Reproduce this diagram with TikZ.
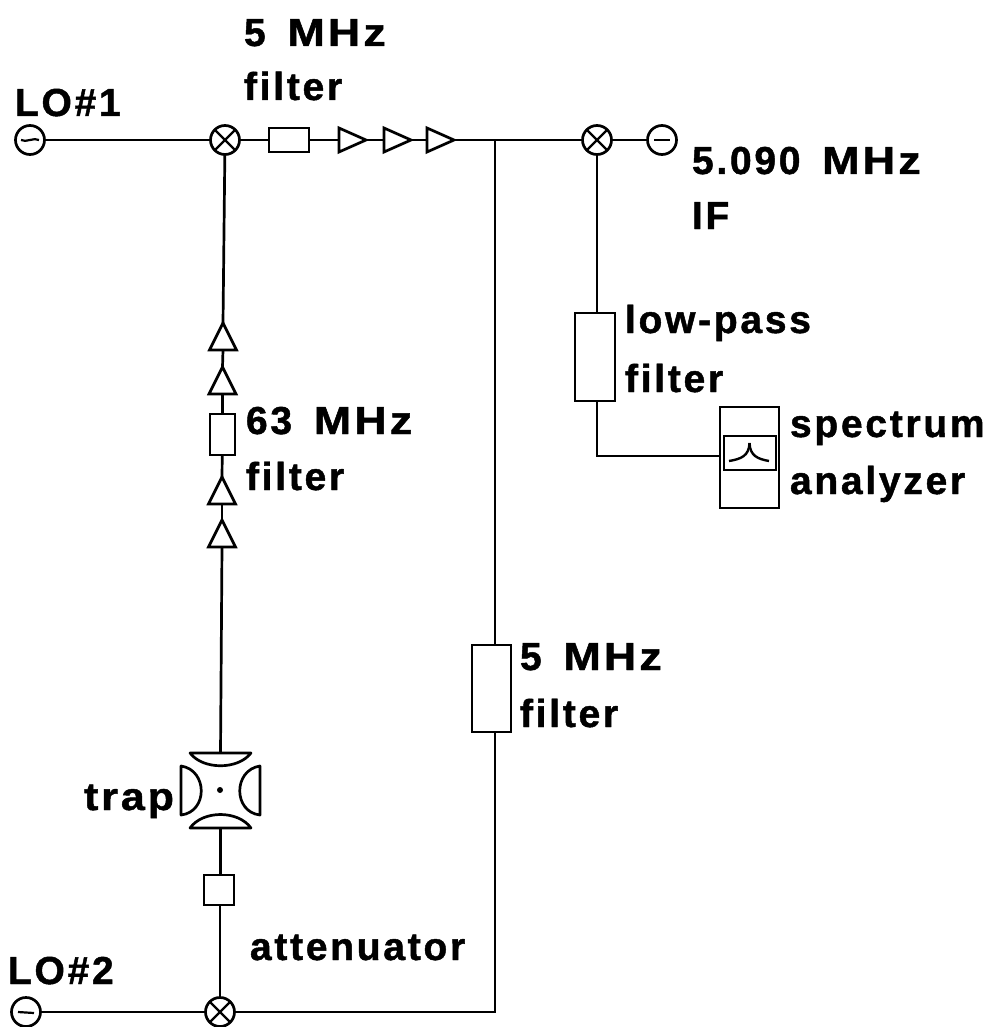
\documentclass[tikz,border=0pt]{standalone}
\usepackage{fontspec}
\usepackage{graphicx}
\setmainfont[LetterSpace=7,WordSpace=1.6,BoldFeatures={FakeBold=1.2}]{Liberation Sans}
\usetikzlibrary{shapes.geometric}
\newcommand{\mhzword}{\scalebox{1.15}[1]{MHz}}
\tikzset{
  wire/.style={line width=2.7pt},
  lab/.style={anchor=base west,inner sep=0pt,outer sep=0pt,font=\fontsize{39}{39}\selectfont\bfseries},
  src/.style={circle,draw,line width=2.7pt,minimum size=29pt,inner sep=0pt,outer sep=0pt},
  box/.style={rectangle,draw,line width=2.7pt,inner sep=0pt,outer sep=0pt},
  amp/.style={isosceles triangle,isosceles triangle stretches,draw,line width=2.7pt,inner sep=0pt,outer sep=0pt,anchor=apex},
  ampr/.style={amp,minimum width=24pt,minimum height=27pt},
  ampu/.style={amp,shape border rotate=90,minimum width=27pt,minimum height=27pt},
}
\begin{document}
\begin{tikzpicture}[x=1pt,y=-1pt]
\useasboundingbox (0,0) rectangle (990,1027);
% sources and mixers
\node[src] (lo1) at (30,140) {};
\node[src] (m1) at (225,140) {};
\node[src] (m2) at (597,140) {};
\node[src] (ifs) at (662,140) {};
\node[src] (lo2) at (26,1012) {};
\node[src] (m3) at (220,1012) {};
\foreach \m in {m1,m2,m3}{
  \draw[wire,line width=2.4pt] (\m.45) -- (\m.225) (\m.135) -- (\m.315);
}
\draw[line width=2.2pt] ([xshift=-9pt]lo1.center) .. controls ([xshift=-4pt,yshift=-3pt]lo1.center) and ([xshift=4pt,yshift=3pt]lo1.center) .. ([xshift=9pt]lo1.center);
\draw[line width=2.2pt] ([xshift=-8pt]lo2.center) -- ([xshift=8pt,yshift=-1pt]lo2.center);
\draw[line width=2.2pt] ([xshift=-8pt]ifs.center) -- ([xshift=8pt]ifs.center);
% top row
\node[box,minimum width=40pt,minimum height=24pt] (f1) at (289,140) {};
\node[ampr] (a1) at (366,140) {};
\node[ampr] (a2) at (411,140) {};
\node[ampr] (a3) at (454,140) {};
\coordinate (j) at (495,140);
\draw[wire] (lo1) -- (m1) -- (f1) -- (a1.lower side);
\draw[wire] (a1.apex) -- (a2.lower side);
\draw[wire] (a2.apex) -- (a3.lower side);
\draw[wire] (a3.apex) -- (j) -- (m2) -- (ifs);
\draw[wire] (lo2) -- (m3);
% left column
\node[ampu] (u1) at (223,323) {};
\node[ampu] (u2) at (222.5,367) {};
\node[box,minimum width=25pt,minimum height=41pt] (f2) at (222.5,434.5) {};
\node[ampu] (u3) at (222,477) {};
\node[ampu] (u4) at (222,520) {};
\node[box,minimum width=30pt,minimum height=30pt] (att) at (219,890) {};
% trap
\coordinate (tt) at (220.5,753);
\coordinate (tb) at (220.5,828);
\draw[line width=2.7pt,line join=round] (190,753) -- (251,753) .. controls (238,770) and (203,770) .. (190,753) -- cycle;
\draw[line width=2.7pt,line join=round] (190,828) -- (251,828) .. controls (238,810) and (203,810) .. (190,828) -- cycle;
\draw[line width=2.7pt,line join=round] (181,766) -- (181,815) .. controls (208,812) and (208,770) .. (181,766) -- cycle;
\draw[line width=2.7pt,line join=round] (260,766) -- (260,815) .. controls (233,812) and (233,770) .. (260,766) -- cycle;
\fill (220,790) circle (3pt);
\draw[wire] (m1) -- (u1.apex);
\draw[wire] (u1.lower side) -- (u2.apex);
\draw[wire] (u2.lower side) -- (f2);
\draw[wire] (f2) -- (u3.apex);
\draw[wire] (u3.lower side) -- (u4.apex);
\draw[wire] (u4.lower side) -- (tt);
\draw[wire] (tb) -- (att.north-|tb);
\draw[wire] (att.south-|m3) -- (m3);
% right part
\node[box,minimum width=39pt,minimum height=87pt] (f3) at (491.5,688.5) {};
\coordinate (k) at (495,1012);
\draw[wire] (j) -- (j|-f3.north);
\draw[wire] (j|-f3.south) -- (k) -- (m3);
\node[box,minimum width=40pt,minimum height=88pt] (f4) at (595,357) {};
\node[box,minimum width=59pt,minimum height=101pt] (sa) at (749.5,457.5) {};
\node[box,minimum width=52pt,minimum height=34pt] (scr) at (750,453) {};
\draw[wire] (m2) -- (m2|-f4.north);
\draw[wire] (m2|-f4.south) |- (sa.west|-0,456);
\draw[line width=2.4pt] (729,461) .. controls (741,459) and (749,456) .. (749.5,443);
\draw[line width=2.4pt] (769,461) .. controls (758,459) and (750,456) .. (749.5,443);
% labels
\node[lab] (t1) at (15,116) {LO\#1};
\node[lab] (t2) at (244,46) {5 \mhzword};
\node[lab] (t3) at (244,100) {filter};
\node[lab] (t4) at (692,174) {5.090 \mhzword};
\node[lab] (t5) at (692,229) {IF};
\node[lab] (t6) at (625,333) {low-pass};
\node[lab] (t7) at (625,392) {filter};
\node[lab] (t8) at (790,437) {spectrum};
\node[lab] (t9) at (790,494) {analyzer};
\node[lab] (t10) at (246,434) {63 \mhzword};
\node[lab] (t11) at (246,490) {filter};
\node[lab] (t12) at (520,670) {5 \mhzword};
\node[lab] (t13) at (520,727) {filter};
\node[lab] (t14) at (84,810) {\scalebox{1.1}[1]{trap}};
\node[lab] (t15) at (250,960) {attenuator};
\node[lab] (t16) at (8,984) {LO\#2};
\end{tikzpicture}
\end{document}
